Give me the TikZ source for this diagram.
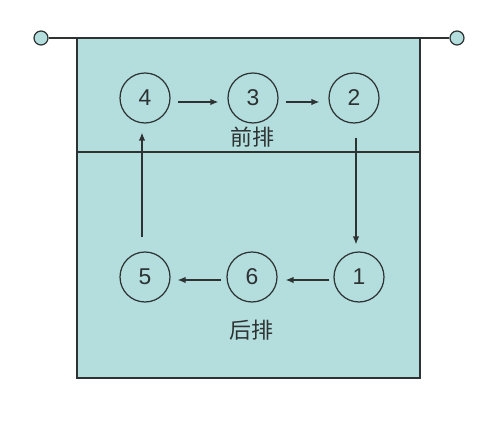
\documentclass[tikz,border=0pt]{standalone}
\usepackage{fontspec}
\setmainfont{Liberation Sans}
\newfontfamily\cjk{Noto Sans CJK SC}
\usetikzlibrary{arrows.meta}
\definecolor{courtblue}{RGB}{180,222,222}
\definecolor{linegray}{RGB}{45,50,50}
\begin{document}
\begin{tikzpicture}[x=0.02cm,y=-0.02cm, line width=0.7pt,
  player/.style={circle, draw=linegray, inner sep=0, minimum size=1cm, font=\fontsize{13}{15}\selectfont, text=linegray},
  post/.style={circle, draw=linegray, fill=courtblue, inner sep=0, minimum size=0.28cm},
  move/.style={draw=linegray, -{Latex[length=1.6mm,width=1.3mm]}},
  row/.style={font=\cjk\fontsize{12.5}{14}\selectfont, text=linegray}]
\useasboundingbox (0,0) rectangle (500,421);
\fill[courtblue] (77,38) rectangle (420,378);
\draw[linegray] (77,38) rectangle (420,378);
\draw[linegray] (77,152) -- (420,152);
\node[post] (netl) at (41,38){};
\node[post] (netr) at (457,38){};
\draw[linegray] (netl) -- (netr);
\node[player] (p4) at (145,98){4};
\node[player] (p3) at (253,98){3};
\node[player] (p2) at (354,98){2};
\node[player] (p5) at (145,277){5};
\node[player] (p6) at (252,277){6};
\node[player] (p1) at (359,277){1};
\node[row] (front) at (252,137){前排};
\node[row] (back) at (251,330){后排};
\draw[move, shorten <=0.14cm, shorten >=0.18cm] ([yshift=-0.08cm]p4.east) -- ([yshift=-0.08cm]p3.west);
\draw[move, shorten <=0.14cm, shorten >=0.18cm] ([yshift=-0.08cm]p3.east) -- ([yshift=-0.08cm]p2.west);
\draw[move, shorten <=0.28cm, shorten >=0.14cm] ([xshift=0.04cm]p2.south) -- ([xshift=0.04cm]p2.south |- p1.north);
\draw[move, shorten <=0.08cm, shorten >=0.16cm] ([yshift=-0.06cm]p1.west) -- ([yshift=-0.06cm]p6.east);
\draw[move, shorten <=0.1cm, shorten >=0.14cm] ([yshift=-0.06cm]p6.west) -- ([yshift=-0.06cm]p5.east);
\draw[move, shorten <=0.28cm, shorten >=0.18cm] ([xshift=-0.06cm]p5.north) -- ([xshift=-0.06cm]p5.north |- p4.south);
\end{tikzpicture}
\end{document}
